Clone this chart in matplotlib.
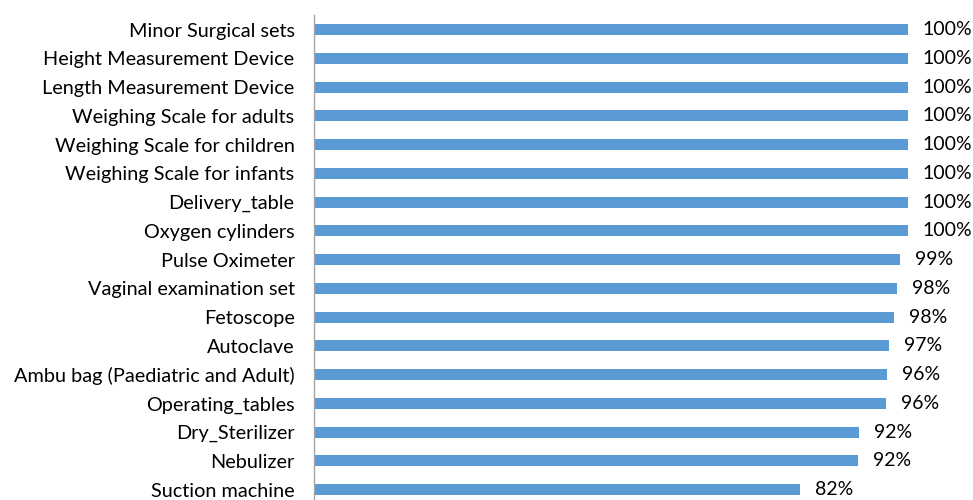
import numpy as np
import matplotlib.pyplot as plt

plt.rcParams['font.family'] = ['Lato', 'DejaVu Sans']

items = ["Minor Surgical sets", "Height Measurement Device", "Length Measurement Device",
         "Weighing Scale for adults", "Weighing Scale for children", "Weighing Scale for infants",
         "Delivery_table", "Oxygen cylinders", "Pulse Oximeter", "Vaginal examination set",
         "Fetoscope", "Autoclave", "Ambu bag (Paediatric and Adult)", "Operating_tables",
         "Dry_Sterilizer", "Nebulizer", "Suction machine"]
pct = [100, 100, 100, 100, 100, 100, 100, 100, 98.7, 98.2, 97.7, 96.8, 96.5, 96.3, 91.8, 91.6, 81.9]

fig = plt.figure(figsize=(9.73, 5.0), dpi=100)
row = 28.75
ax = fig.add_axes([314 / 973, 1 - 15.3 / 500 - 17 * row / 500, 653 / 973, 17 * row / 500])

y = np.arange(len(items))
ax.barh(y, pct, height=0.38, color="#5B9BD5")
for yi, v in zip(y, pct):
    ax.annotate(f"{v:.0f}%", (v, yi), xytext=(11, 0), textcoords="offset points",
                va="center", ha="left", fontsize=14, color="#000000")

ax.set_yticks(y)
ax.set_yticklabels(items, fontsize=14.3)
ax.set_ylim(len(items) - 0.5, -0.5)
ax.set_xlim(0, 110)
ax.tick_params(axis="y", length=0, pad=14)
ax.set_xticks([])
for s in ["top", "right", "bottom"]:
    ax.spines[s].set_visible(False)
ax.spines["left"].set_color("#A6A6A6")
ax.spines["left"].set_linewidth(1)

fig.savefig("out.png", dpi=100)
